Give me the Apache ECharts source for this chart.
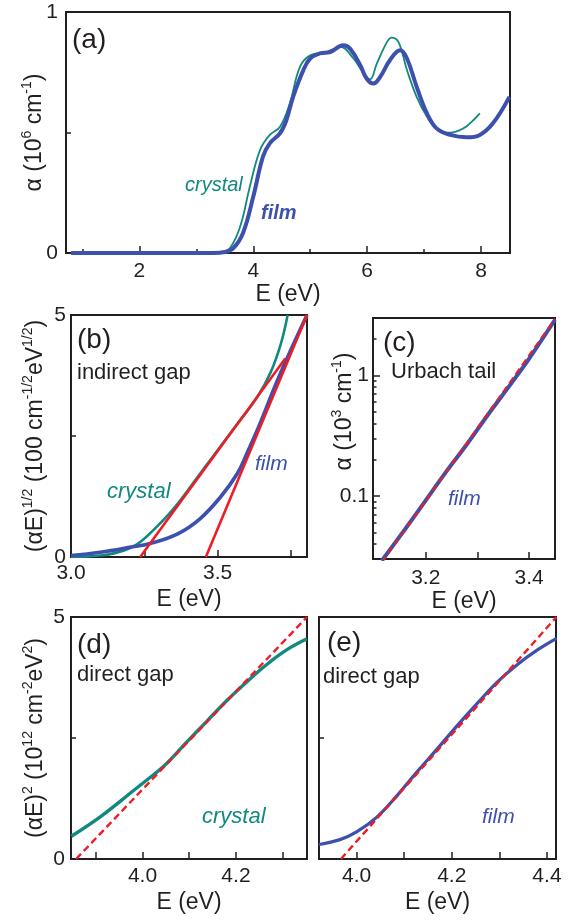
<!DOCTYPE html>
<html>
<head>
<meta charset="utf-8">
<script src="https://cdn.jsdelivr.net/npm/echarts@6/dist/echarts.min.js"></script>
<style>
html, body { margin: 0; padding: 0; background: #fff; }
#chart { width: 569px; height: 921px; }
</style>
</head>
<body>
<div id="chart"></div>
<script>
// (a) absorption coefficient, 10^6 cm^-1
var aCrystalE = [2.8, 3.3, 3.45, 3.59, 3.77, 3.94, 4.12, 4.29, 4.47, 4.64, 4.82, 5.0, 5.29, 5.53, 5.76, 5.94, 6.05, 6.17, 6.35, 6.43, 6.55, 6.7, 6.87, 7.05, 7.22, 7.46, 7.69, 7.87, 7.98];
var aCrystalA = [0, 0, 0.004, 0.02, 0.11, 0.276, 0.428, 0.49, 0.524, 0.62, 0.772, 0.82, 0.834, 0.855, 0.807, 0.745, 0.72, 0.786, 0.876, 0.894, 0.876, 0.759, 0.648, 0.566, 0.517, 0.499, 0.517, 0.552, 0.579];
var aFilmE = [0.8, 1.5, 2.5, 3.3, 3.5, 3.65, 3.82, 4.0, 4.17, 4.29, 4.47, 4.58, 4.7, 4.88, 5.0, 5.17, 5.35, 5.58, 5.7, 5.88, 5.99, 6.11, 6.23, 6.4, 6.58, 6.7, 6.87, 7.05, 7.22, 7.46, 7.75, 7.98, 8.21, 8.5];
var aFilmA = [0, 0, 0, 0, 0.004, 0.02, 0.083, 0.234, 0.4, 0.455, 0.497, 0.55, 0.648, 0.759, 0.807, 0.828, 0.834, 0.862, 0.848, 0.779, 0.724, 0.703, 0.731, 0.8, 0.841, 0.807, 0.69, 0.58, 0.517, 0.49, 0.48, 0.49, 0.538, 0.648];

// (b) indirect gap, (alpha E)^1/2
var bCrystalE = [3.0, 3.1, 3.15, 3.2, 3.236, 3.28, 3.35, 3.44, 3.556, 3.636, 3.682, 3.716, 3.739];
var bCrystalV = [0.0, 0.03, 0.08, 0.18, 0.31, 0.55, 1.0, 1.72, 2.66, 3.31, 3.83, 4.41, 5.0];
var bFilmE = [3.0, 3.1, 3.2, 3.27, 3.364, 3.44, 3.51, 3.567, 3.6, 3.645, 3.7, 3.75, 3.805];
var bFilmV = [0.03, 0.1, 0.2, 0.28, 0.48, 0.79, 1.24, 1.72, 2.14, 2.76, 3.59, 4.28, 5.0];
var bCrystalFitE = [3.236, 3.731];
var bCrystalFitV = [0, 4.1];
var bFilmFitE = [3.46, 3.805];
var bFilmFitV = [0, 5.0];

// (c) Urbach tail, 10^3 cm^-1
var cFilmE = [3.115, 3.16, 3.2, 3.24, 3.28, 3.32, 3.36, 3.4, 3.45];
var cFilmA = [0.029, 0.053, 0.092, 0.16, 0.27, 0.47, 0.8, 1.38, 2.9];
var cFitE = [3.115, 3.45];
var cFitA = [0.028, 2.95];

// (d) direct gap crystal, (alpha E)^2
var dCrystalE = [3.848, 3.911, 3.983, 4.0, 4.05, 4.095, 4.138, 4.18, 4.23, 4.27, 4.31, 4.352];
var dCrystalV = [0.47, 0.88, 1.43, 1.56, 1.96, 2.42, 2.85, 3.27, 3.72, 4.05, 4.33, 4.55];
var dFitE = [3.858, 4.352];
var dFitV = [0, 5.0];

// (e) direct gap film
var eFilmE = [3.921, 3.965, 4.0, 4.042, 4.085, 4.127, 4.169, 4.211, 4.254, 4.296, 4.338, 4.38, 4.42];
var eFilmV = [0.3, 0.4, 0.56, 0.86, 1.31, 1.8, 2.27, 2.75, 3.22, 3.66, 4.02, 4.32, 4.56];
var eFitE = [3.967, 4.42];
var eFitV = [0, 5.0];

// tick positions and labels
var aXMajor = [2, 4, 6, 8];
var aXMinor = [1, 3, 5, 7];
var aYTicks = [0, 0.5, 1];
var aYLabels = [0, 1];
var bXTicks = [3.0, 3.25, 3.5, 3.75];
var bXLabels = [3.0, 3.5];
var cXTicks = [3.2, 3.3, 3.4];
var cXLabels = [3.2, 3.4];
var cYMajor = [0.1, 1];
var cYMinor = [0.03, 0.04, 0.05, 0.06, 0.07, 0.08, 0.09, 0.2, 0.3, 0.4, 0.5, 0.6, 0.7, 0.8, 0.9, 2, 3];
var dXTicks = [3.9, 4.0, 4.1, 4.2, 4.3];
var dXLabels = [4.0, 4.2];
var eXTicks = [4.0, 4.1, 4.2, 4.3, 4.4];
var eXLabels = [4.0, 4.2, 4.4];
var yTicks5 = [0, 2.5, 5];
var yLabels5 = [0, 5];

var FONT = '"Liberation Sans", Arial, Helvetica, sans-serif';
var BLACK = '#231f20';
var TEAL = '#11897f';
var BLUE = '#3c50ad';
var RED = '#ee1c25';

function pairs(xs, ys) {
  return xs.map(function (x, i) { return [x, ys[i]]; });
}
function fix1(v) { return v.toFixed(1); }

var grids = [], xAxes = [], yAxes = [], series = [];

function addGrid(left, top, width, height) {
  grids.push({
    left: left, top: top, width: width, height: height,
    show: true, borderColor: BLACK, borderWidth: 2, backgroundColor: 'transparent'
  });
  return grids.length - 1;
}

var rich = {
  n: { fontSize: 23, fontFamily: FONT, color: BLACK, lineHeight: 26, verticalAlign: 'bottom' },
  s: { fontSize: 14, fontFamily: FONT, color: BLACK, lineHeight: 14, verticalAlign: 'top' }
};

// o: grid, type, min, max, ticks, labels, len, margin, formatter, name, gap, shift
function makeAxis(o, pos) {
  return {
    gridIndex: o.grid, type: o.type || 'value', min: o.min, max: o.max, position: pos,
    axisLine: { show: false, onZero: false },
    axisTick: { show: true, inside: true, length: o.len || 7, customValues: o.ticks,
      lineStyle: { color: BLACK, width: 1.5 } },
    axisLabel: { show: !!(o.labels && o.labels.length), customValues: o.labels || [],
      margin: o.margin || 6, color: BLACK, fontSize: 21, fontFamily: FONT,
      formatter: o.formatter },
    splitLine: { show: false },
    minorTick: { show: false },
    name: o.name || '', nameLocation: 'middle', nameGap: o.gap || 30, nameRotate: o.rotate || 0,
    nameMoveOverlap: pos === 'bottom',
    nameTextStyle: { color: BLACK, fontSize: 23, fontFamily: FONT, rich: rich,
      padding: [0, 0, 0, o.shift || 0] }
  };
}
function addX(o) { xAxes.push(makeAxis(o, 'bottom')); return xAxes.length - 1; }
function addY(o) { yAxes.push(makeAxis(o, 'left')); return yAxes.length - 1; }

function line(xi, yi, xs, ys, color, width, dashed, smooth) {
  series.push({
    type: 'line', xAxisIndex: xi, yAxisIndex: yi, data: pairs(xs, ys),
    showSymbol: false, symbol: 'none', smooth: smooth || false, clip: true,
    lineStyle: { color: color, width: width, type: dashed ? [7, 4] : 'solid', cap: 'butt' },
    silent: true, animation: false
  });
}

// (a)
var gA = addGrid(66, 12, 444, 241);
var xA = addX({ grid: gA, min: 0.71, max: 8.51, ticks: aXMajor, labels: aXMajor, margin: 8,
  name: 'E (eV)', gap: 28 });
addX({ grid: gA, min: 0.71, max: 8.51, ticks: aXMinor, len: 4 });
var yA = addY({ grid: gA, min: 0, max: 1, ticks: aYTicks, labels: aYLabels, len: 5, margin: 8,
  name: '{n|α (10}{s|6}{n| cm}{s|-1}{n|)}', gap: 20, rotate: 90 });
line(xA, yA, aCrystalE, aCrystalA, TEAL, 1.8, false, 0.4);
line(xA, yA, aFilmE, aFilmA, BLUE, 4, false, 0.4);

// (b)
var gB = addGrid(71, 315, 236, 242);
var xB = addX({ grid: gB, min: 3.0, max: 3.805, ticks: bXTicks, labels: bXLabels, margin: 6,
  formatter: fix1, name: 'E (eV)', gap: 31 });
var yB = addY({ grid: gB, min: 0, max: 5, ticks: yTicks5, labels: yLabels5, len: 5, margin: 5,
  name: '{n|(αE)}{s|1/2}{n| (100 cm}{s|-1/2}{n|eV}{s|1/2}{n|)}', gap: 24, rotate: 90 });
line(xB, yB, bCrystalE, bCrystalV, TEAL, 2.6, false, 0.4);
line(xB, yB, bFilmE, bFilmV, BLUE, 3.6, false, 0.4);
line(xB, yB, bCrystalFitE, bCrystalFitV, RED, 2.6);
line(xB, yB, bFilmFitE, bFilmFitV, RED, 2.6);

// (c)
var gC = addGrid(373, 318, 182, 241);
var xC = addX({ grid: gC, min: 3.098, max: 3.45, ticks: cXTicks, labels: cXLabels, margin: 9,
  formatter: fix1, name: 'E (eV)', gap: 29 });
var yC = addY({ grid: gC, type: 'log', min: 0.03, max: 3, ticks: cYMajor, labels: cYMajor, len: 7, margin: 4,
  name: '{n|α (10}{s|3}{n| cm}{s|-1}{n|)}', gap: 17, rotate: 90, shift: 54 });
addY({ grid: gC, type: 'log', min: 0.03, max: 3, ticks: cYMinor, len: 3.5 });
line(xC, yC, cFilmE, cFilmA, BLUE, 4, false, 0.3);
line(xC, yC, cFitE, cFitA, RED, 2, true);

// (d)
var gD = addGrid(71, 617, 236, 242);
var xD = addX({ grid: gD, min: 3.847, max: 4.352, ticks: dXTicks, labels: dXLabels, margin: 7,
  formatter: fix1, name: 'E (eV)', gap: 32 });
var yD = addY({ grid: gD, min: 0, max: 5, ticks: yTicks5, labels: yLabels5, len: 5, margin: 6,
  name: '{n|(αE)}{s|2}{n| (10}{s|12}{n| cm}{s|-2}{n|eV}{s|2}{n|)}', gap: 24, rotate: 90 });
line(xD, yD, dCrystalE, dCrystalV, TEAL, 3.4, false, 0.4);
line(xD, yD, dFitE, dFitV, RED, 2.4, true);

// (e)
var gE = addGrid(319, 617, 237, 242);
var xE = addX({ grid: gE, min: 3.921, max: 4.419, ticks: eXTicks, labels: eXLabels, margin: 7,
  formatter: fix1, name: 'E (eV)', gap: 32 });
var yE = addY({ grid: gE, min: 0, max: 5, ticks: yTicks5, labels: [], len: 5 });
line(xE, yE, eFilmE, eFilmV, BLUE, 3.2, false, 0.4);
line(xE, yE, eFitE, eFitV, RED, 2.4, true);

function label(x, y, text, size, color, style, weight) {
  return {
    type: 'text', x: x, y: y, silent: true,
    style: { text: text, fill: color || BLACK, fontSize: size, fontFamily: FONT,
      fontStyle: style || 'normal', fontWeight: weight || 'normal',
      align: 'left', verticalAlign: 'middle' }
  };
}

var chart = echarts.init(document.getElementById('chart'), null, { renderer: 'canvas' });
chart.setOption({
  animation: false,
  backgroundColor: '#fff',
  grid: grids,
  xAxis: xAxes,
  yAxis: yAxes,
  series: series,
  graphic: [
    label(72, 40, '(a)', 28),
    label(185, 185, 'crystal', 20, TEAL, 'italic'),
    label(261, 213, 'film', 20, BLUE, 'italic', 'bold'),
    label(77, 340, '(b)', 28),
    label(77, 373, 'indirect gap', 22),
    label(107, 492, 'crystal', 22, TEAL, 'italic'),
    label(255, 464, 'film', 21, BLUE, 'italic'),
    label(383, 343, '(c)', 28),
    label(391, 372, 'Urbach tail', 22),
    label(448, 499, 'film', 21, BLUE, 'italic'),
    label(77, 645, '(d)', 28),
    label(77, 675, 'direct gap', 22),
    label(202, 817, 'crystal', 22, TEAL, 'italic'),
    label(327, 643, '(e)', 28),
    label(323, 677, 'direct gap', 22),
    label(482, 817, 'film', 21, BLUE, 'italic')
  ]
});
</script>
</body>
</html>
